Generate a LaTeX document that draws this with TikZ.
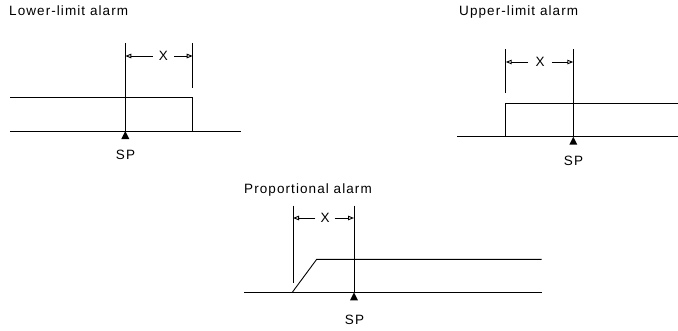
\documentclass[tikz,border=0pt]{standalone}
\usepackage{fontspec}
\setmainfont{Liberation Sans}[LetterSpace=8]
\usetikzlibrary{arrows.meta}
\begin{document}
\begin{tikzpicture}[x=1pt,y=-1pt,
  ln/.style={line width=0.9pt,black},
  dim/.style={line width=0.9pt,-{Triangle[open,length=6pt,width=4.5pt]}},
  lbl/.style={inner sep=0pt,font=\fontsize{13.5}{15}\selectfont},
  title/.style={lbl,anchor=west},
  sptri/.style={fill=black,draw=none}]
\useasboundingbox (0,0) rectangle (678,330);
% ---------- Lower-limit alarm ----------
\node[title] (t1) at (9,11) {Lower-limit alarm};
\coordinate (a1) at (10,131);
\coordinate (a2) at (241,131);
\coordinate (b1) at (10,97.7);
\coordinate (b2) at (192.7,97.7);
\coordinate (b3) at (192.7,131);
\coordinate (s1t) at (125.3,43);
\coordinate (s1b) at (125.3,131);
\coordinate (d1t) at (192.7,43);
\coordinate (d1b) at (192.7,88);
\draw[ln] (a1) -- (a2);
\draw[ln] (b1) -- (b2) -- (b3);
\draw[ln] (s1t) -- (s1b);
\draw[ln] (d1t) -- (d1b);
\node[lbl] (x1) at (163.5,56) {X};
\coordinate (x1l) at (125.3,56);
\coordinate (x1r) at (192.7,56);
\draw[dim] (x1.west) ++(-6,0) -- (x1l);
\draw[dim] (x1.east) ++(6,0) -- (x1r);
\fill[sptri] (s1b) -- ++(4,8) -- ++(-8,0) -- cycle;
\node[lbl] (sp1) at (125.5,155) {SP};
% ---------- Upper-limit alarm ----------
\node[title] (t2) at (459,12) {Upper-limit alarm};
\coordinate (e1) at (457.3,136.7);
\coordinate (e2) at (678,136.7);
\coordinate (f1) at (505.7,136.7);
\coordinate (f2) at (505.7,103.7);
\coordinate (f3) at (678,103.7);
\coordinate (s2t) at (573.3,49);
\coordinate (s2b) at (573.3,136.7);
\coordinate (d2t) at (505.7,49);
\coordinate (d2b) at (505.7,93);
\draw[ln] (e1) -- (e2);
\draw[ln] (f1) -- (f2) -- (f3);
\draw[ln] (s2t) -- (s2b);
\draw[ln] (d2t) -- (d2b);
\node[lbl] (x2) at (540,62) {X};
\coordinate (x2l) at (505.7,62);
\coordinate (x2r) at (573.3,62);
\draw[dim] (x2.west) ++(-7,0) -- (x2l);
\draw[dim] (x2.east) ++(7,0) -- (x2r);
\fill[sptri] (s2b) -- ++(4,8) -- ++(-8,0) -- cycle;
\node[lbl] (sp2) at (573.5,161) {SP};
% ---------- Proportional alarm ----------
\node[title] (t3) at (244,190) {Proportional alarm};
\coordinate (g1) at (244.3,292.3);
\coordinate (g2) at (541.7,292.3);
\coordinate (h1) at (292.3,292.3);
\coordinate (h2) at (316.7,259.3);
\coordinate (h3) at (541.7,259.3);
\coordinate (s3t) at (354,205.7);
\coordinate (s3b) at (354,292.3);
\coordinate (d3t) at (293,205.7);
\coordinate (d3b) at (293,283.3);
\draw[ln] (g1) -- (g2);
\draw[ln] (h1) -- (h2) -- (h3);
\draw[ln] (s3t) -- (s3b);
\draw[ln] (d3t) -- (d3b);
\node[lbl] (x3) at (325,218) {X};
\coordinate (x3l) at (293,218);
\coordinate (x3r) at (354,218);
\draw[dim] (x3.west) ++(-5,0) -- (x3l);
\draw[dim] (x3.east) ++(5,0) -- (x3r);
\fill[sptri] (s3b) -- ++(4,8) -- ++(-8,0) -- cycle;
\node[lbl] (sp3) at (354.5,320) {SP};
\end{tikzpicture}
\end{document}
